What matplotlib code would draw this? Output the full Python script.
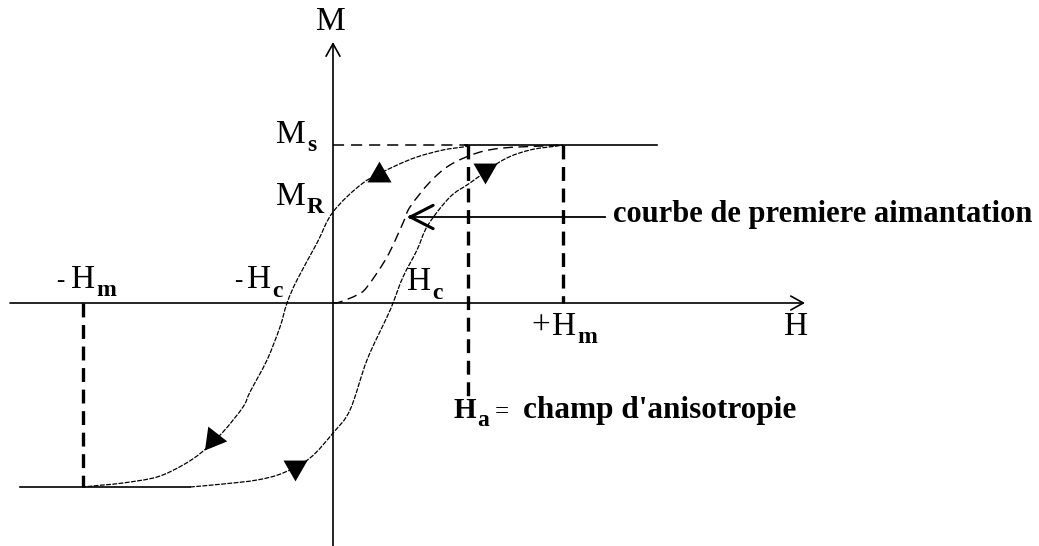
import matplotlib
matplotlib.use("Agg")
import matplotlib.pyplot as plt
from matplotlib.path import Path
from matplotlib.patches import PathPatch

plt.rcParams["font.family"] = ["Liberation Serif", "DejaVu Serif"]
plt.rcParams["lines.scale_dashes"] = False

# Characteristic values of the loop (arbitrary units, origin at H=0, M=0)
Ms = 1.58          # saturation magnetisation (upper level)
Ms_low = -1.84     # lower saturation level
Mr = 0.91          # remanence
Hc_pos = 0.60      # coercive field (rising branch)
Hc_neg = -0.46     # coercive field (falling branch)
Hm_pos = 2.30      # maximum applied field
Hm_neg = -2.50     # minimum applied field
Ha = 1.35          # anisotropy field

# Falling branch: from positive saturation down to negative saturation
down_H = [1.37, 1.30, 1.10, 0.84, 0.60, 0.30, 0.00, -0.16, -0.36, Hc_neg,
          -0.53, -0.66, -0.83, -0.90, -1.10, -1.31, -1.50, -1.76, -2.10, -2.30, Hm_neg]
down_M = [1.575, 1.56, 1.53, 1.46, 1.36, 1.20, Mr, 0.60, 0.23, 0.00,
          -0.24, -0.57, -0.89, -1.04, -1.29, -1.49, -1.62, -1.74, -1.80, -1.82, Ms_low]

# Rising branch: from negative saturation up to positive saturation
up_H = [-1.43, -1.10, -0.76, -0.50, -0.23, 0.00, 0.17, 0.34, 0.54, Hc_pos,
        0.70, 0.84, 0.95, 1.17, 1.37, 1.70, 1.97, 2.24, Hm_pos]
up_M = [Ms_low, -1.81, -1.77, -1.70, -1.55, -1.30, -1.07, -0.57, -0.14, 0.00,
        0.26, 0.53, 0.78, 1.06, 1.20, 1.43, 1.53, 1.57, Ms]

# First magnetisation curve, starting from the demagnetised state
first_H = [0.00, 0.07, 0.24, 0.34, 0.54, 0.70, 0.77, 0.97, 1.17, 1.44, 1.70, 2.10, 2.30]
first_M = [0.00, 0.01, 0.08, 0.16, 0.46, 0.80, 0.96, 1.21, 1.38, 1.50, 1.55, 1.57, 1.58]

# Direction markers along the loop: position and orientation (deg)
arrow_H = [0.46, 1.52, -1.20, -0.38]
arrow_M = [1.28, 1.33, -1.36, -1.64]
arrow_angle = [0, 180, 142, 180]


def smooth_path(xs, ys):
    """Catmull-Rom curve through the points, as cubic Bezier segments."""
    pts = list(zip(xs, ys))
    verts = [pts[0]]
    codes = [Path.MOVETO]
    n = len(pts)
    for i in range(n - 1):
        p0 = pts[i - 1] if i > 0 else pts[i]
        p1 = pts[i]
        p2 = pts[i + 1]
        p3 = pts[i + 2] if i + 2 < n else pts[i + 1]
        c1 = (p1[0] + (p2[0] - p0[0]) / 6.0, p1[1] + (p2[1] - p0[1]) / 6.0)
        c2 = (p2[0] - (p3[0] - p1[0]) / 6.0, p2[1] - (p3[1] - p1[1]) / 6.0)
        verts += [c1, c2, p2]
        codes += [Path.CURVE4] * 3
    return Path(verts, codes)


fig = plt.figure(figsize=(10.39, 5.46), dpi=100)
ax = fig.add_axes([0, 0, 1, 1])
ax.set_xlim(-3.33, 7.06)
ax.set_ylim(-2.43, 3.03)
ax.axis("off")

k = "black"

# Axes with open arrowheads
axis_arrow = dict(arrowstyle="->,head_length=0.45,head_width=0.25", color=k,
                  lw=1.2, shrinkA=0, shrinkB=0, mutation_scale=20)
ax.annotate("", xy=(4.72, 0), xytext=(-3.23, 0), arrowprops=axis_arrow)
ax.annotate("", xy=(0, 2.61), xytext=(0, -2.43), arrowprops=axis_arrow)

# Saturation levels
ax.plot([0, Ha], [Ms, Ms], color=k, lw=1.1, linestyle=(0, (8, 5)))
ax.plot([Ha - 0.03, 3.24], [Ms, Ms], color=k, lw=1.2)
ax.plot([-3.13, up_H[0]], [Ms_low, Ms_low], color=k, lw=1.2)

# Vertical reference lines (thick dashes)
vdash = dict(color=k, lw=2.4, linestyle=(0, (10, 5.5)))
ax.plot([Ha, Ha], [Ms, -0.94], **vdash)
ax.plot([Hm_pos, Hm_pos], [Ms, 0], **vdash)
ax.plot([Hm_neg, Hm_neg], [0, Ms_low], **vdash)

# Hysteresis loop branches
for hs, ms in ((down_H, down_M), (up_H, up_M)):
    ax.add_patch(PathPatch(smooth_path(hs, ms), fill=False, edgecolor=k,
                           lw=0.9, linestyle=(0, (3.5, 1.0))))

# First magnetisation curve
ax.add_patch(PathPatch(smooth_path(first_H, first_M), fill=False, edgecolor=k,
                       lw=1.0, linestyle=(0, (7, 4))))

# Direction triangles
for h, m, a in zip(arrow_H, arrow_M, arrow_angle):
    ax.plot([h], [m], marker=(3, 0, a), markersize=20, color=k,
            markeredgewidth=0, linestyle="none")

# Pointer to the first magnetisation curve
ax.plot([0.78, 2.72], [0.86, 0.86], color=k, lw=1.3)
ax.annotate("", xy=(0.74, 0.86), xytext=(0.80, 0.86),
            arrowprops=dict(arrowstyle="->,head_length=0.82,head_width=0.42",
                            color=k, lw=2.2, shrinkA=0, shrinkB=0,
                            mutation_scale=20))
ax.text(2.80, 0.81, "courbe de premiere aimantation", fontsize=22,
        fontweight="bold", ha="left", va="baseline")

# Labels
main_fs = 24
sub_fs = 17
renderer = fig.canvas.get_renderer()


def lab(x, y, s, fs=main_fs, bold=False):
    return ax.text(x, y, s, fontsize=fs, ha="left", va="baseline",
                   fontweight="bold" if bold else "normal")


def lab_sub(x, y, s, sub, dy=-0.08, fs=main_fs, bold=False):
    t = lab(x, y, s, fs, bold)
    x1 = t.get_window_extent(renderer=renderer).x1
    xs = ax.transData.inverted().transform((x1, 0))[0] + 0.01
    return lab(xs, y + dy, sub, sub_fs, True)


lab(-0.17, 2.73, "M")
lab_sub(-0.57, 1.60, "M", "s")
lab_sub(-0.57, 0.98, "M", "R")

lab(-2.77, 0.16, "-", 18)
lab_sub(-2.62, 0.15, "H", "m")

lab(-0.99, 0.16, "-", 18)
lab_sub(-0.86, 0.15, "H", "c", dy=-0.09)

lab_sub(0.74, 0.13, "H", "c", dy=-0.09)

lab(1.98, -0.32, "+")
lab_sub(2.19, -0.32, "H", "m")

lab(4.51, -0.32, "H")

lab_sub(1.21, -1.15, "H", "a", fs=21, bold=True)
lab(1.62, -1.15, "=", 18)
lab(1.90, -1.15, "champ d'anisotropie", 22.5, True)

fig.savefig("out.png", dpi=100)
